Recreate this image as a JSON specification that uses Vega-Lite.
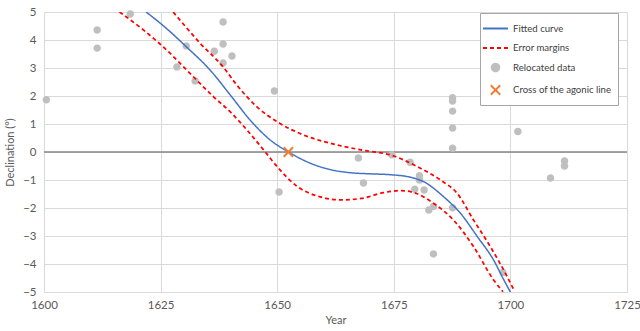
{
  "$schema": "https://vega.github.io/schema/vega-lite/v6.json",
  "width": 583,
  "height": 280,
  "autosize": {"type": "none"},
  "padding": {"left": 44, "top": 12, "right": 13, "bottom": 39},
  "background": "white",
  "config": {
    "view": {"stroke": null},
    "font": "Lato",
    "axis": {
      "gridColor": "#D9D9D9",
      "gridWidth": 1,
      "domain": false,
      "ticks": false,
      "labelOverlap": false,
      "labelColor": "#595959",
      "labelFont": "Lato",
      "labelFontSize": 11.5,
      "titleColor": "#595959",
      "titleFont": "Lato",
      "titleFontSize": 11,
      "titleFontWeight": "normal"
    },
    "legend": {
      "labelFont": "Lato",
      "labelFontSize": 9.6,
      "labelColor": "#404040",
      "title": null
    }
  },
  "datasets": {
    "fitted": [
      {"year": 1621.9, "decl": 5.0, "series": "Fitted curve"},
      {"year": 1626, "decl": 4.45, "series": "Fitted curve"},
      {"year": 1630.5, "decl": 3.76, "series": "Fitted curve"},
      {"year": 1635.6, "decl": 2.93, "series": "Fitted curve"},
      {"year": 1640.2, "decl": 1.98, "series": "Fitted curve"},
      {"year": 1644.2, "decl": 1.14, "series": "Fitted curve"},
      {"year": 1648.5, "decl": 0.43, "series": "Fitted curve"},
      {"year": 1652.4, "decl": 0.0, "series": "Fitted curve"},
      {"year": 1657.1, "decl": -0.4, "series": "Fitted curve"},
      {"year": 1661.4, "decl": -0.63, "series": "Fitted curve"},
      {"year": 1665.7, "decl": -0.74, "series": "Fitted curve"},
      {"year": 1670, "decl": -0.78, "series": "Fitted curve"},
      {"year": 1674.2, "decl": -0.81, "series": "Fitted curve"},
      {"year": 1678.5, "decl": -0.9, "series": "Fitted curve"},
      {"year": 1681.4, "decl": -1.06, "series": "Fitted curve"},
      {"year": 1685.7, "decl": -1.6, "series": "Fitted curve"},
      {"year": 1689.3, "decl": -2.19, "series": "Fitted curve"},
      {"year": 1692.9, "decl": -3.02, "series": "Fitted curve"},
      {"year": 1696.4, "decl": -3.86, "series": "Fitted curve"},
      {"year": 1698.6, "decl": -4.57, "series": "Fitted curve"},
      {"year": 1700, "decl": -5.0, "series": "Fitted curve"}
    ],
    "margins": [
      {"year": 1627.7, "decl": 5.0, "band": "upper", "series": "Error margins"},
      {"year": 1633.5, "decl": 3.88, "band": "upper", "series": "Error margins"},
      {"year": 1638.5, "decl": 3.02, "band": "upper", "series": "Error margins"},
      {"year": 1641.3, "decl": 2.4, "band": "upper", "series": "Error margins"},
      {"year": 1645.6, "decl": 1.62, "band": "upper", "series": "Error margins"},
      {"year": 1650.6, "decl": 1.02, "band": "upper", "series": "Error margins"},
      {"year": 1655.6, "decl": 0.61, "band": "upper", "series": "Error margins"},
      {"year": 1661.4, "decl": 0.31, "band": "upper", "series": "Error margins"},
      {"year": 1668.5, "decl": 0.06, "band": "upper", "series": "Error margins"},
      {"year": 1674.6, "decl": -0.12, "band": "upper", "series": "Error margins"},
      {"year": 1680, "decl": -0.52, "band": "upper", "series": "Error margins"},
      {"year": 1685, "decl": -1.0, "band": "upper", "series": "Error margins"},
      {"year": 1688.6, "decl": -1.48, "band": "upper", "series": "Error margins"},
      {"year": 1692.1, "decl": -2.43, "band": "upper", "series": "Error margins"},
      {"year": 1695.7, "decl": -3.38, "band": "upper", "series": "Error margins"},
      {"year": 1699.3, "decl": -4.45, "band": "upper", "series": "Error margins"},
      {"year": 1700.9, "decl": -4.98, "band": "upper", "series": "Error margins"},
      {"year": 1616.2, "decl": 5.0, "band": "lower", "series": "Error margins"},
      {"year": 1621.3, "decl": 4.36, "band": "lower", "series": "Error margins"},
      {"year": 1626.3, "decl": 3.64, "band": "lower", "series": "Error margins"},
      {"year": 1631.3, "decl": 2.81, "band": "lower", "series": "Error margins"},
      {"year": 1636.3, "decl": 1.98, "band": "lower", "series": "Error margins"},
      {"year": 1639.9, "decl": 1.44, "band": "lower", "series": "Error margins"},
      {"year": 1643.5, "decl": 0.79, "band": "lower", "series": "Error margins"},
      {"year": 1647.1, "decl": 0.07, "band": "lower", "series": "Error margins"},
      {"year": 1650.6, "decl": -0.64, "band": "lower", "series": "Error margins"},
      {"year": 1654.2, "decl": -1.22, "band": "lower", "series": "Error margins"},
      {"year": 1659.2, "decl": -1.6, "band": "lower", "series": "Error margins"},
      {"year": 1663.5, "decl": -1.71, "band": "lower", "series": "Error margins"},
      {"year": 1668, "decl": -1.66, "band": "lower", "series": "Error margins"},
      {"year": 1672.8, "decl": -1.45, "band": "lower", "series": "Error margins"},
      {"year": 1676.5, "decl": -1.38, "band": "lower", "series": "Error margins"},
      {"year": 1679.5, "decl": -1.46, "band": "lower", "series": "Error margins"},
      {"year": 1683.5, "decl": -1.83, "band": "lower", "series": "Error margins"},
      {"year": 1687.8, "decl": -2.43, "band": "lower", "series": "Error margins"},
      {"year": 1692.1, "decl": -3.38, "band": "lower", "series": "Error margins"},
      {"year": 1696.4, "decl": -4.57, "band": "lower", "series": "Error margins"},
      {"year": 1698.4, "decl": -4.99, "band": "lower", "series": "Error margins"}
    ],
    "relocated": [
      {"year": 1600.5, "decl": 1.87, "series": "Relocated data"},
      {"year": 1611.4, "decl": 4.36, "series": "Relocated data"},
      {"year": 1611.4, "decl": 3.71, "series": "Relocated data"},
      {"year": 1618.5, "decl": 4.93, "series": "Relocated data"},
      {"year": 1628.5, "decl": 3.04, "series": "Relocated data"},
      {"year": 1630.5, "decl": 3.79, "series": "Relocated data"},
      {"year": 1632.4, "decl": 2.54, "series": "Relocated data"},
      {"year": 1636.5, "decl": 3.6, "series": "Relocated data"},
      {"year": 1638.4, "decl": 4.64, "series": "Relocated data"},
      {"year": 1638.4, "decl": 3.86, "series": "Relocated data"},
      {"year": 1638.4, "decl": 3.18, "series": "Relocated data"},
      {"year": 1640.3, "decl": 3.43, "series": "Relocated data"},
      {"year": 1649.4, "decl": 2.18, "series": "Relocated data"},
      {"year": 1650.4, "decl": -1.43, "series": "Relocated data"},
      {"year": 1667.4, "decl": -0.21, "series": "Relocated data"},
      {"year": 1668.5, "decl": -1.11, "series": "Relocated data"},
      {"year": 1674.6, "decl": -0.1, "series": "Relocated data"},
      {"year": 1678.5, "decl": -0.37, "series": "Relocated data"},
      {"year": 1680.5, "decl": -0.85, "series": "Relocated data"},
      {"year": 1680.5, "decl": -1.0, "series": "Relocated data"},
      {"year": 1679.5, "decl": -1.33, "series": "Relocated data"},
      {"year": 1681.5, "decl": -1.36, "series": "Relocated data"},
      {"year": 1682.5, "decl": -2.07, "series": "Relocated data"},
      {"year": 1683.5, "decl": -1.95, "series": "Relocated data"},
      {"year": 1683.5, "decl": -3.64, "series": "Relocated data"},
      {"year": 1687.6, "decl": -1.99, "series": "Relocated data"},
      {"year": 1687.6, "decl": 1.94, "series": "Relocated data"},
      {"year": 1687.6, "decl": 1.82, "series": "Relocated data"},
      {"year": 1687.6, "decl": 1.46, "series": "Relocated data"},
      {"year": 1687.6, "decl": 0.86, "series": "Relocated data"},
      {"year": 1687.6, "decl": 0.13, "series": "Relocated data"},
      {"year": 1701.6, "decl": 0.73, "series": "Relocated data"},
      {"year": 1708.6, "decl": -0.93, "series": "Relocated data"},
      {"year": 1711.6, "decl": -0.32, "series": "Relocated data"},
      {"year": 1711.6, "decl": -0.5, "series": "Relocated data"},
      {"year": 1698.4, "decl": -4.3, "series": "Relocated data"}
    ],
    "cross": [
      {"year": 1652.4, "decl": 0.0, "series": "Cross of the agonic line"}
    ]
  },
  "layer": [
    {
      "data": {"values": [{"zero": 0}]},
      "mark": {"type": "rule", "color": "#868686", "strokeWidth": 1.3},
      "encoding": {
        "y": {
          "field": "zero", "type": "quantitative",
          "scale": {"domain": [-5, 5], "nice": false},
          "axis": {"values": [-5, -4, -3, -2, -1, 0, 1, 2, 3, 4, 5], "tickCount": 11, "title": "Declination (°)", "labelPadding": 8, "titlePadding": 7}
        }
      }
    },
    {
      "data": {"name": "relocated"},
      "mark": {"type": "point", "filled": true, "opacity": 1, "size": 289},
      "encoding": {
        "x": {
          "field": "year", "type": "quantitative",
          "scale": {"domain": [1600, 1725], "nice": false, "zero": false},
          "axis": {"values": [1600, 1625, 1650, 1675, 1700, 1725], "format": "d", "title": "Year", "labelPadding": 7, "titlePadding": 4, "labelFlush": false}
        },
        "y": {"field": "decl", "type": "quantitative"},
        "color": {
          "field": "series", "type": "nominal",
          "scale": {
            "domain": ["Fitted curve", "Error margins", "Relocated data", "Cross of the agonic line"],
            "range": ["#4472C4", "#FF0000", "#BFBFBF", "#ED7D31"]
          },
          "legend": {
            "title": null,
            "orient": "none",
            "legendX": 436,
            "legendY": 1,
            "strokeColor": "#A6A6A6",
            "fillColor": "white",
            "padding": 6,
            "rowPadding": 4.5,
            "labelOffset": 8,
            "symbolSize": 289,
            "symbolStrokeWidth": 2,
            "symbolOpacity": 1
          }
        },
        "shape": {
          "field": "series", "type": "nominal",
          "scale": {
            "domain": ["Fitted curve", "Error margins", "Relocated data", "Cross of the agonic line"],
            "range": [
              "M-1.47,0L1.47,0",
              "M-1.47,0L1.47,0",
              "M0.44,0A0.44,0.44 0 1,1 -0.44,0A0.44,0.44 0 1,1 0.44,0Z",
              "M-0.55,-0.55L0.55,0.55M-0.55,0.55L0.55,-0.55"
            ]
          },
          "legend": {"title": null, "orient": "none", "legendX": 436, "legendY": 1}
        }
      }
    },
    {
      "data": {"name": "fitted"},
      "mark": {"type": "line", "strokeWidth": 1.5, "interpolate": "monotone", "clip": true},
      "encoding": {
        "x": {"field": "year", "type": "quantitative"},
        "y": {"field": "decl", "type": "quantitative"},
        "color": {"field": "series", "type": "nominal"},
        "strokeDash": {
          "field": "series", "type": "nominal",
          "scale": {
            "domain": ["Fitted curve", "Error margins", "Relocated data", "Cross of the agonic line"],
            "range": [[1, 0], [4, 3], [1, 0], [1, 0]]
          },
          "legend": {"title": null, "orient": "none", "legendX": 436, "legendY": 1}
        }
      }
    },
    {
      "data": {"name": "margins"},
      "mark": {"type": "line", "strokeWidth": 1.75, "interpolate": "monotone", "clip": true},
      "encoding": {
        "x": {"field": "year", "type": "quantitative"},
        "y": {"field": "decl", "type": "quantitative"},
        "detail": {"field": "band"},
        "color": {"field": "series", "type": "nominal"},
        "strokeDash": {"field": "series", "type": "nominal"}
      }
    },
    {
      "data": {"name": "cross"},
      "mark": {"type": "point", "filled": false, "strokeWidth": 2, "opacity": 1, "size": 289},
      "encoding": {
        "x": {"field": "year", "type": "quantitative"},
        "y": {"field": "decl", "type": "quantitative"},
        "color": {"field": "series", "type": "nominal"},
        "shape": {"field": "series", "type": "nominal"}
      }
    }
  ]
}
